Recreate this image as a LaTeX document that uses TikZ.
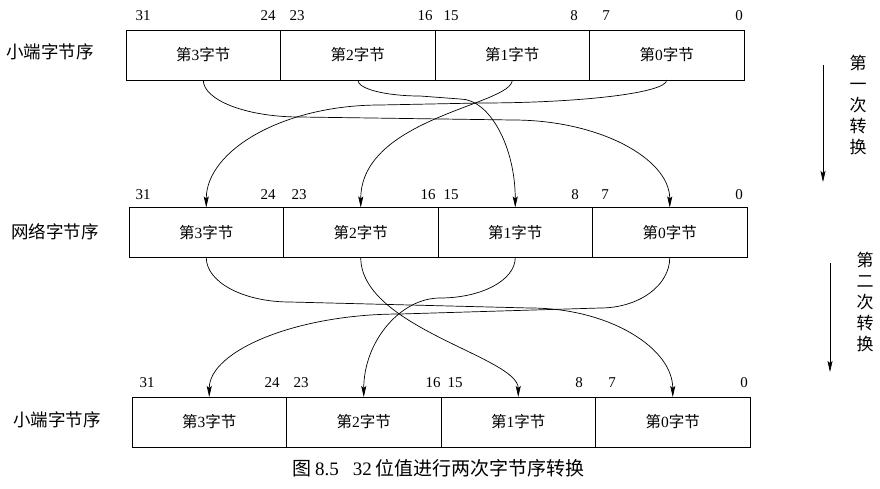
\documentclass[tikz,border=0pt]{standalone}
\usepackage{fontspec}
\setmainfont{Liberation Serif}
\newfontfamily\cjk{Noto Sans CJK SC}
\usepackage{tikz}
\usetikzlibrary{positioning,arrows.meta}
\newcommand{\bytelabel}[1]{{\cjk 第}#1{\cjk 字节}}

\begin{document}
\begin{tikzpicture}[x=1pt, y=1pt,
		cell/.style = {draw, line width=0.8pt, minimum width=154.5pt, minimum height=50pt,
			inner sep=0pt, outer sep=0pt, font=\fontsize{15.5pt}{18pt}\selectfont},
		bitno/.style = {font=\fontsize{15pt}{18pt}\selectfont, inner sep=0pt},
		rowname/.style = {font=\fontsize{17.5pt}{20pt}\selectfont\cjk, inner sep=0pt},
		sidetext/.style = {font=\fontsize{17pt}{21pt}\selectfont\cjk, align=center, inner sep=0pt},
		flow/.style = {line width=0.7pt, -{Stealth[length=11pt, width=5pt, inset=2pt]}}]
			\useasboundingbox (0,0) rectangle (880,-488);
			% first row: little endian
			\node[cell] (la3) at (203.25,-55) {\bytelabel{3}};
			\node[cell, right=0pt of la3] (la2) {\bytelabel{2}};
			\node[cell, right=0pt of la2] (la1) {\bytelabel{1}};
			\node[cell, right=0pt of la1] (la0) {\bytelabel{0}};
			\node[rowname] (namea) at (50,-52) {小端字节序};
			\foreach \num/\xx in {31/143, 24/268, 23/297, 16/425, 15/451, 8/574, 7/606, 0/739}
				\node[bitno] (bita\num) at (\xx,-16) {\num};
			% second row: network order
			\node[cell] (nb3) at (206.25,-232.5) {\bytelabel{3}};
			\node[cell, right=0pt of nb3] (nb2) {\bytelabel{2}};
			\node[cell, right=0pt of nb2] (nb1) {\bytelabel{1}};
			\node[cell, right=0pt of nb1] (nb0) {\bytelabel{0}};
			\node[rowname] (nameb) at (55,-232) {网络字节序};
			\foreach \num/\xx in {31/143, 24/268, 23/299, 16/428, 15/451, 8/575, 7/605, 0/739}
				\node[bitno] (bitb\num) at (\xx,-195) {\num};
			% third row: little endian again
			\node[cell] (lc3) at (209.25,-422) {\bytelabel{3}};
			\node[cell, right=0pt of lc3] (lc2) {\bytelabel{2}};
			\node[cell, right=0pt of lc2] (lc1) {\bytelabel{1}};
			\node[cell, right=0pt of lc1] (lc0) {\bytelabel{0}};
			\node[rowname] (namec) at (57,-420) {小端字节序};
			\foreach \num/\xx in {31/147, 24/272, 23/301, 16/433, 15/455, 8/579, 7/612, 0/744}
				\node[bitno] (bitc\num) at (\xx,-383) {\num};
			% first swap
			\draw[flow] (la3.south) to[out=-90, in=180, out distance=20pt, in distance=54pt] (300,-117)
				-- (513,-120) to[out=0, in=90, out distance=86pt, in distance=49pt] (nb0.north);
			\draw[flow] (la2.south) to[out=-90, in=180, out distance=9pt, in distance=34pt] (420,-96)
				-- (460,-99) to[out=0, in=90, out distance=30pt, in distance=60pt] (nb1.north);
			\draw[flow] (la1.south) to[out=-90, in=90, out distance=25pt, in distance=90pt] (nb2.north);
			\draw[flow] (la0.south) to[out=-90, in=0, out distance=13pt, in distance=100pt] (480,-103)
				-- (380,-105) to[out=180, in=90, out distance=97pt, in distance=57pt] (nb3.north);
			% second swap
			\draw[flow] (nb3.south) to[out=-90, in=180, out distance=25pt, in distance=46pt] (290,-302)
				-- (530,-308) to[out=0, in=90, out distance=79pt, in distance=49pt] (lc0.north);
			\draw[flow] (nb2.south) to[out=-90, in=90, out distance=70pt, in distance=40pt] (lc1.north);
			\draw[flow] (nb1.south) to[out=-90, in=0, out distance=23pt, in distance=41pt] (440,-298)
				to[out=180, in=90, out distance=40pt, in distance=55pt] (lc2.north);
			\draw[flow] (nb0.south) to[out=-90, in=0, out distance=28pt, in distance=39pt] (600,-308)
				-- (400,-314) to[out=180, in=90, out distance=104pt, in distance=46pt] (lc3.north);
			% side arrows
			\coordinate (firsttop) at (823,-65);
			\coordinate (firstend) at (823,-182);
			\draw[flow] (firsttop) -- (firstend);
			\node[sidetext] (firstname) at (858,-105) {第\\一\\次\\转\\换};
			\coordinate (secondtop) at (830,-263);
			\coordinate (secondend) at (830,-372);
			\draw[flow] (secondtop) -- (secondend);
			\node[sidetext] (secondname) at (865,-302) {第\\二\\次\\转\\换};
			% caption
			\node[font=\fontsize{19pt}{22pt}\selectfont, inner sep=0pt] (caption) at (438.5,-468)
				{{\cjk 图}\,8.5\hspace{0.75em}32\,{\cjk 位值进行两次字节序转换}};
		\end{tikzpicture}
\end{document}
